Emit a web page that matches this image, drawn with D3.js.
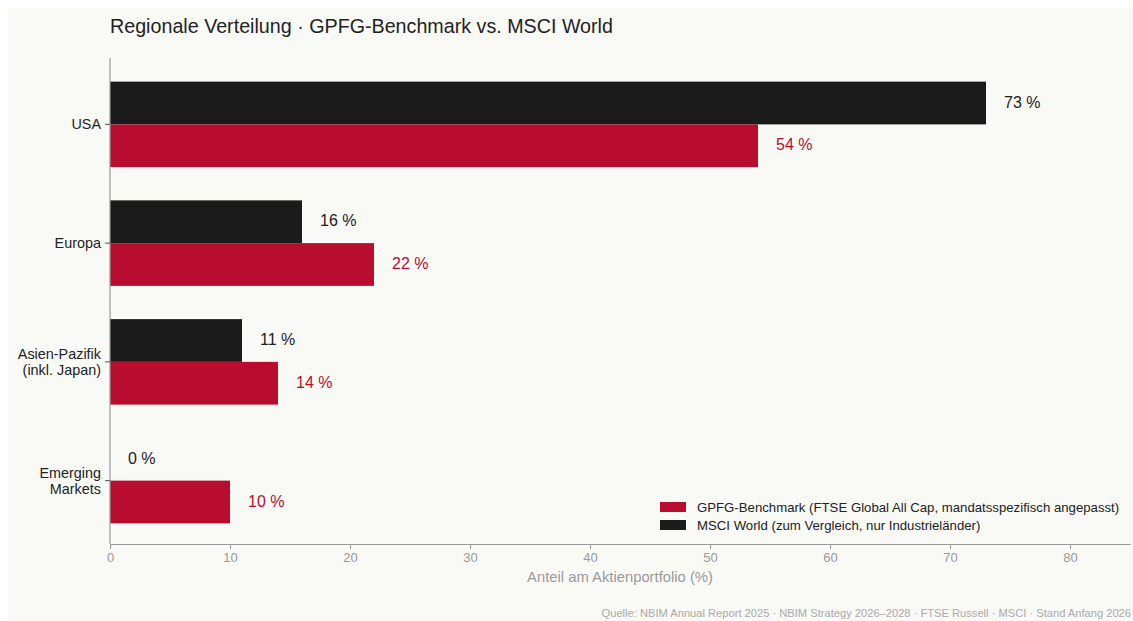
<!DOCTYPE html>
<html>
<head>
<meta charset="utf-8">
<script src="https://cdn.jsdelivr.net/npm/d3@7"></script>
<style>
  html, body { margin: 0; padding: 0; background: #ffffff; overflow: hidden; }
  svg { display: block; font-family: "Liberation Sans", Arial, Helvetica, sans-serif; }
</style>
</head>
<body>
<svg id="chart" width="1133" height="621"></svg>
<script>
const categories = ["USA", "Europa", "Asien-Pazifik\n(inkl. Japan)", "Emerging\nMarkets"];
const gpfgValues = [54, 22, 14, 10];
const msciValues = [73, 16, 11, 0];
const xTicks = [0, 10, 20, 30, 40, 50, 60, 70, 80];
const seriesNames = ["GPFG-Benchmark (FTSE Global All Cap, mandatsspezifisch angepasst)", "MSCI World (zum Vergleich, nur Industrieländer)"];
const titleText = "Regionale Verteilung · GPFG-Benchmark vs. MSCI World";
const xAxisTitle = "Anteil am Aktienportfolio (%)";
const sourceText = "Quelle: NBIM Annual Report 2025 · NBIM Strategy 2026–2028 · FTSE Russell · MSCI · Stand Anfang 2026";

const RED = "#b90d30", BLACK = "#1b1b1b", TEXT = "#222222", GRAY = "#9a9a9a";

const svg = d3.select("#chart");
svg.append("rect").attr("x", 8).attr("y", 8).attr("width", 1133).attr("height", 621).attr("fill", "#f9f9f6");

const x = d3.scaleLinear().domain([0, 85]).range([110, 1130]);
const y = d3.scaleBand().domain(categories).range([65, 540]).paddingInner(0.28).paddingOuter(0.14);
const sub = d3.scaleBand().domain(["msci", "gpfg"]).range([0, y.bandwidth()]);

// Title
svg.append("text").attr("x", 110).attr("y", 33).attr("font-size", 19.7).attr("fill", TEXT).text(titleText);

// Bars
const g = svg.append("g");
categories.forEach((c, i) => {
  const rows = [{k: "msci", v: msciValues[i], col: BLACK, lc: TEXT}, {k: "gpfg", v: gpfgValues[i], col: RED, lc: RED}];
  rows.forEach(r => {
    const y0 = y(c) + sub(r.k);
    g.append("rect").attr("x", x(0)).attr("y", y0).attr("width", x(r.v) - x(0)).attr("height", sub.bandwidth()).attr("fill", r.col);
    g.append("text").attr("x", x(r.v) + 18).attr("y", y0 + sub.bandwidth() / 2 - 1).attr("dy", "0.35em")
      .attr("font-size", 16).attr("fill", r.lc).text(r.v + " %");
  });
});

// X axis
const xAxis = svg.append("g").attr("transform", "translate(0,544)")
  .call(d3.axisBottom(x).tickValues(xTicks).tickSize(5).tickPadding(4).tickSizeOuter(0));
xAxis.select(".domain").attr("stroke", GRAY).attr("stroke-width", 1.2);
xAxis.selectAll(".tick line").attr("stroke", GRAY);
xAxis.selectAll(".tick text").attr("fill", GRAY).attr("font-size", 13).attr("font-family", "Liberation Sans, Arial, sans-serif");

svg.append("text").attr("x", 620).attr("y", 582).attr("text-anchor", "middle").attr("font-size", 14.8).attr("fill", GRAY).text(xAxisTitle);

// Y axis
svg.append("line").attr("x1", 110).attr("x2", 110).attr("y1", 58).attr("y2", 544).attr("stroke", GRAY).attr("stroke-width", 1.2);
categories.forEach(c => {
  const cy = y(c) + y.bandwidth() / 2;
  svg.append("line").attr("x1", 105).attr("x2", 110).attr("y1", cy).attr("y2", cy).attr("stroke", "#555");
  const lines = c.split("\n");
  const t = svg.append("text").attr("text-anchor", "end").attr("font-size", 14.4).attr("fill", TEXT);
  lines.forEach((ln, j) => {
    t.append("tspan").attr("x", 101).attr("y", cy + (j - (lines.length - 1) / 2) * 16).attr("dy", "0.35em").text(ln);
  });
});

// Legend
const legend = svg.append("g");
[[seriesNames[0], RED], [seriesNames[1], BLACK]].forEach((d, i) => {
  const ly = 507 + i * 18;
  legend.append("rect").attr("x", 660).attr("y", ly - 5).attr("width", 26).attr("height", 10).attr("fill", d[1]);
  legend.append("text").attr("x", 697).attr("y", ly).attr("dy", "0.35em").attr("font-size", 13.2).attr("fill", TEXT).text(d[0]);
});

// Source
svg.append("text").attr("x", 1131).attr("y", 617).attr("text-anchor", "end").attr("font-size", 11.15).attr("fill", "#aaaaaa").text(sourceText);
</script>
</body>
</html>
